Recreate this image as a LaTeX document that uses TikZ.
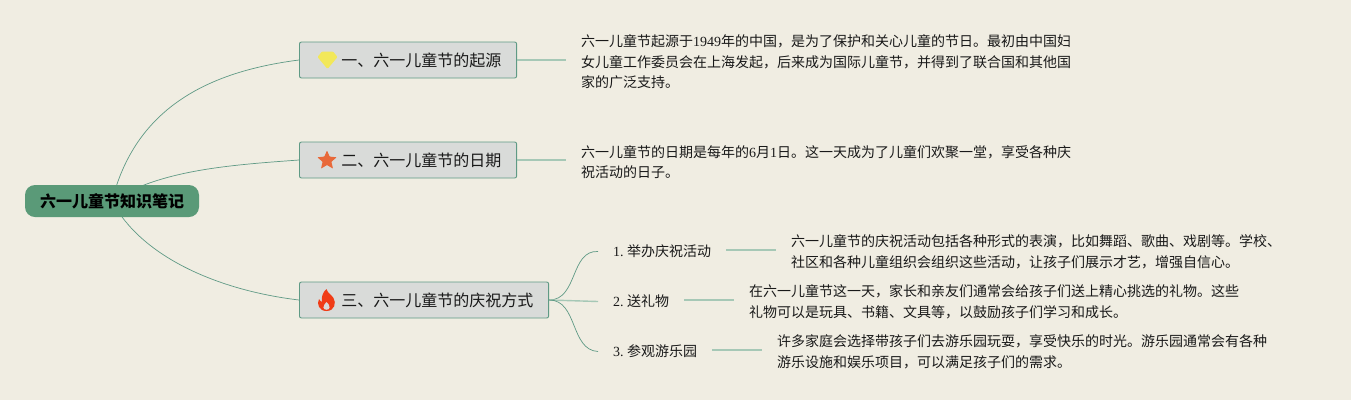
\documentclass[tikz,border=0pt]{standalone}
\usepackage{fontspec}
\setmainfont{Noto Sans CJK SC}
\newfontfamily\latfont{Liberation Serif}
\newcommand{\lat}[1]{{\latfont #1}}
\usetikzlibrary{backgrounds}
\definecolor{paper}{HTML}{F0EDE2}
\definecolor{rootgreen}{HTML}{5A9A78}
\definecolor{topicfill}{HTML}{D9DBD9}
\definecolor{edge}{HTML}{5F9A85}
\definecolor{softedge}{HTML}{A6C8B6}
\definecolor{gemyellow}{HTML}{F2E85A}
\definecolor{starorange}{HTML}{E8693A}
\definecolor{flamered}{HTML}{F03C16}
\tikzset{
  x=1pt,y=-1pt,
  rootbox/.style={draw=none,fill=rootgreen,rounded corners=10pt,minimum width=174pt,minimum height=32pt,inner sep=0pt,font=\fontsize{16}{20}\selectfont\bfseries,text=black},
  topicbox/.style={draw=edge,line width=0.9pt,fill=topicfill,rounded corners=2pt,minimum height=36pt,inner xsep=15.2pt,inner ysep=0pt,font=\fontsize{16}{20}\selectfont,text=black!90},
  subbox/.style={inner xsep=15pt,inner ysep=2pt,font=\fontsize{14}{20}\selectfont,text=black!90},
  leafbox/.style={inner xsep=15pt,inner ysep=0pt,align=left,font=\fontsize{14}{20.5}\selectfont,text=black!90},
  thin curve/.style={draw=edge,line width=0.7pt},
  soft line/.style={draw=softedge,line width=1.4pt},
}
\begin{document}
\begin{tikzpicture}
\useasboundingbox (0,0) rectangle (1351,400);
\begin{scope}[on background layer]
  \fill[paper] (0,0) rectangle (1351,400);
\end{scope}

\node[rootbox] (root) at (112,201) {六一儿童节知识笔记};

\node[topicbox,anchor=west] (t1) at (299,60) {\raisebox{-0.8pt}{\hspace*{26.8pt}一、六一儿童节的起源}};
\node[topicbox,anchor=west] (t2) at (299,160) {\raisebox{-0.8pt}{\hspace*{26.8pt}二、六一儿童节的日期}};
\node[topicbox,anchor=west] (t3) at (299,300) {\raisebox{-0.8pt}{\hspace*{26.8pt}三、六一儿童节的庆祝方式}};

\node[leafbox,anchor=west] (l1) at (566,62) {六一儿童节起源于\lat{1949}年的中国，是为了保护和关心儿童的节日。最初由中国妇\\女儿童工作委员会在上海发起，后来成为国际儿童节，并得到了联合国和其他国\\家的广泛支持。};
\node[leafbox,anchor=west] (l2) at (566,162) {六一儿童节的日期是每年的\lat{6}月\lat{1}日。这一天成为了儿童们欢聚一堂，享受各种庆\\祝活动的日子。};

\node[subbox,anchor=west] (s1) at (598,251.5) {\lat{1.}\hspace{3.5pt}举办庆祝活动};
\node[subbox,anchor=west] (s2) at (598,301.5) {\lat{2.}\hspace{3.5pt}送礼物};
\node[subbox,anchor=west] (s3) at (598,351.5) {\lat{3.}\hspace{3.5pt}参观游乐园};

\node[leafbox,anchor=west] (d1) at (776,252) {六一儿童节的庆祝活动包括各种形式的表演，比如舞蹈、歌曲、戏剧等。学校、\\社区和各种儿童组织会组织这些活动，让孩子们展示才艺，增强自信心。};
\node[leafbox,anchor=west] (d2) at (734,302) {在六一儿童节这一天，家长和亲友们通常会给孩子们送上精心挑选的礼物。这些\\礼物可以是玩具、书籍、文具等，以鼓励孩子们学习和成长。};
\node[leafbox,anchor=west] (d3) at (762,352) {许多家庭会选择带孩子们去游乐园玩耍，享受快乐的时光。游乐园通常会有各种\\游乐设施和娱乐项目，可以满足孩子们的需求。};

\begin{scope}[on background layer]
  \draw[thin curve] (root.center) .. controls (135,110) and (205,72) .. (t1.west);
  \draw[thin curve] (root.center) .. controls (160,170) and (230,165) .. (t2.west);
  \draw[thin curve] (root.center) .. controls (140,255) and (215,290) .. (t3.west);
  \draw[thin curve] (t3.east) .. controls (578,300) and (570,250) .. (s1.west);
  \draw[soft line] (t3.east) -- (s2.west);
  \draw[thin curve] (t3.east) .. controls (578,300) and (570,350) .. (s3.west);
\end{scope}
\draw[soft line] (t1.east) -- (l1.west |- t1.east);
\draw[soft line] (t2.east) -- (l2.west |- t2.east);
\draw[soft line] (s1.east |- 0,250) -- (d1.west |- 0,250);
\draw[soft line] (s2.east |- 0,300) -- (d2.west |- 0,300);
\draw[soft line] (s3.east |- 0,350) -- (d3.west |- 0,350);

% icons
\fill[gemyellow,rounded corners=1pt] (322,51.5) -- (333,51.5) -- (337.5,57) -- (327.5,69) -- (317.5,57) -- cycle;
\fill[starorange,rounded corners=0.6pt] (327,150.5) -- (329.7,156.6) -- (336.6,157.3) -- (331.4,161.8) -- (333,168.6) -- (327,165) -- (321,168.6) -- (322.6,161.8) -- (317.4,157.3) -- (324.3,156.6) -- cycle;
\fill[flamered] (326.5,289) .. controls (328,294) and (331,294) .. (333.5,298)
  .. controls (336.5,303) and (334.5,311) .. (326.5,311)
  .. controls (319,311) and (316.5,304) .. (319,299)
  .. controls (320,301) and (321,301.5) .. (322,302)
  .. controls (321,297) and (323,292) .. (326.5,289) -- cycle;
\fill[topicfill] (326.5,302) .. controls (328,304) and (330,305) .. (329.6,307.5)
  .. controls (329,310.5) and (324,310.5) .. (323.4,307.5)
  .. controls (323,305) and (325.5,304) .. (326.5,302) -- cycle;
\end{tikzpicture}
\end{document}
